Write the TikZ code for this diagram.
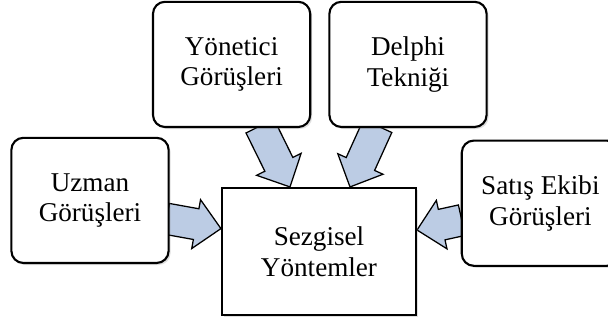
\documentclass[tikz,border=0pt]{standalone}
\usepackage{fontspec}
\setmainfont{Liberation Serif}
\usetikzlibrary{calc,shadows,backgrounds}
\definecolor{arrowfill}{RGB}{188,204,228}
\tikzset{
	roundbox/.style={draw, line width=1.5pt, fill=white, rounded corners=0.3cm, minimum width=3.93cm, minimum height=3.13cm, align=center, font=\fontsize{19.3}{21.8}\selectfont, drop shadow={opacity=0.25, shadow xshift=0.05cm, shadow yshift=-0.05cm}},
	mainbox/.style={roundbox, sharp corners, minimum width=4.85cm, minimum height=3.18cm},
	flowarrow/.style={draw, line width=0.9pt, fill=arrowfill, line join=miter}
}
\def\blockarrow(#1)(#2){\coordinate (h) at ($(#2)!0.63cm!(#1)$);
	\draw[flowarrow] ($(#1)!0.39cm!90:(#2)$) -- ($(h)!0.39cm!90:(#2)$) -- ($(h)!0.62cm!90:(#2)$) -- (#2) -- ($(h)!0.62cm!-90:(#2)$) -- ($(h)!0.39cm!-90:(#2)$) -- ($(#1)!0.39cm!-90:(#2)$) -- cycle;}

\begin{document}
\begin{tikzpicture}
		%%%%% START %%%%%
		\useasboundingbox (0, 0) rectangle (15.2, -8.1);
		\clip (0, 0) rectangle (15.2, -8.1);
		
		\node[mainbox] (sezgisel) at (7.975, -6.29) {Sezgisel\\Yöntemler};
		
		\node[roundbox] (yonetici) at (5.79, -1.61) {Yönetici\\Görüşleri};
		\node[roundbox] (delphi) at (10.2, -1.61) {Delphi\\Tekniği};
		\node[roundbox] (uzman) at (2.25, -5.01) {Uzman\\Görüşleri};
		\node[roundbox] (satis) at (13.51, -5.08) {Satış Ekibi\\Görüşleri};
		
		\coordinate (uzman-out) at ($(uzman.east)+(-0.075, -0.46)$);
		\coordinate (uzman-in) at ($(sezgisel.west)+(0, 0.575)$);
		\coordinate (satis-out) at ($(satis.west)+(0.025, -0.425)$);
		\coordinate (satis-in) at ($(sezgisel.east)+(0, 0.54)$);
		\coordinate (yonetici-out) at ($(yonetici.south)+(0.71, 0.05)$);
		\coordinate (yonetici-in) at ($(sezgisel.north)+(-0.725, 0)$);
		\coordinate (delphi-out) at ($(delphi.south)+(-0.76, 0.05)$);
		\coordinate (delphi-in) at ($(sezgisel.north)+(0.775, 0)$);
		
		\begin{scope}[on background layer]
			\blockarrow(uzman-out)(uzman-in);
			\blockarrow(satis-out)(satis-in);
			\blockarrow(yonetici-out)(yonetici-in);
			\blockarrow(delphi-out)(delphi-in);
		\end{scope}
		
		%%%%% END %%%%%
\end{tikzpicture}
\end{document}
